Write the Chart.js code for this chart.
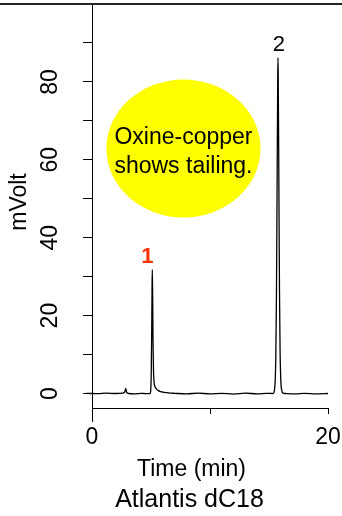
<!DOCTYPE html>
<html>
<head>
<meta charset="utf-8">
<script src="https://cdn.jsdelivr.net/npm/chart.js@4.4.1/dist/chart.umd.min.js"></script>
<style>
  html, body { margin: 0; padding: 0; background: #fff; }
  canvas { display: block; }
</style>
</head>
<body>
<canvas id="chromChart" width="342" height="516"></canvas>
<script>
// chromatogram trace (time in min, signal in mV)
const times = [
  -1.5, -0.5, 0.5, 1.2, 2.0, 2.6, 2.78, 2.86, 2.94, 3.1, 3.6, 4.2, 4.6,
  4.92, 4.98, 5.02, 5.06, 5.09, 5.11, 5.14, 5.17, 5.21, 5.26, 5.34, 5.45, 5.6, 5.8, 6.1, 6.5,
  7.0, 8.0, 9.0, 10.0, 11.0, 12.0, 13.0, 14.0, 14.8,
  15.36, 15.45, 15.52, 15.58, 15.63, 15.67, 15.71, 15.74, 15.76, 15.78, 15.81, 15.85, 15.89, 15.94, 16.0, 16.08, 16.2,
  16.4, 17.2, 18.0, 19.0, 20.0
];
const signal = [
  0.0, 0.05, -0.05, 0.1, 0.0, 0.1, 0.4, 1.3, 0.3, 0.0, -0.1, 0.05, -0.05,
  0.0, 1.0, 5, 16, 27, 31.8, 25, 14, 6, 3.0, 1.8, 1.2, 0.8, 0.5, 0.3, 0.15,
  0.05, -0.1, 0.1, -0.1, 0.05, -0.15, 0.1, -0.1, 0.05,
  0.0, 0.6, 3, 10, 25, 45, 66, 81, 86.2, 82, 68, 46, 26, 11, 3.5, 0.8, 0.1,
  0.0, -0.1, 0.05, -0.1, 0.0
];

const peakNames = ['1', '2'];
const peakTimes = [5.11, 15.76];
const peakHeights = [31.8, 86.2];

const xTickValues = [0, 10, 20];
const xTickLabels = ['0', '', '20'];
const yTickValues = [0, 10, 20, 30, 40, 50, 60, 70, 80, 90];
const yTickLabels = ['0', '', '20', '', '40', '', '60', '', '80', ''];

const noteLines = ['Oxine-copper', 'shows tailing.'];
const noteCenter = [7.75, 62.9];   // time, mV
const noteRadii = [6.53, 17.7];

const FONT = "'Liberation Sans', Arial, Helvetica, sans-serif";

const decorPlugin = {
    id: 'chromDecor',
    beforeDatasetsDraw(chart) {
        const ctx = chart.ctx;
        const xs = chart.scales.x, ys = chart.scales.y;
        const cx = xs.getPixelForValue(noteCenter[0]);
        const cy = ys.getPixelForValue(noteCenter[1]);
        const rx = xs.getPixelForValue(noteCenter[0] + noteRadii[0]) - cx;
        const ry = cy - ys.getPixelForValue(noteCenter[1] + noteRadii[1]);
        ctx.save();
        ctx.fillStyle = '#ffff00';
        ctx.beginPath();
        ctx.ellipse(cx, cy, rx, ry, 0, 0, Math.PI * 2);
        ctx.fill();
        ctx.fillStyle = '#000';
        ctx.font = '23px ' + FONT;
        ctx.textAlign = 'center';
        ctx.textBaseline = 'alphabetic';
        ctx.fillText(noteLines[0], cx, cy - 5);
        ctx.fillText(noteLines[1], cx, cy + 24);
        ctx.restore();
    },
    afterDraw(chart) {
        const ctx = chart.ctx;
        const area = chart.chartArea;
        const xs = chart.scales.x, ys = chart.scales.y;
        ctx.save();

        // frame line across the top
        ctx.fillStyle = '#222';
        ctx.fillRect(0, 3, chart.width, 2);

        // y axis runs a bit below the x axis
        ctx.strokeStyle = '#000';
        ctx.lineWidth = 1;
        ctx.beginPath();
        ctx.moveTo(Math.round(area.left) + 0.5, area.bottom);
        ctx.lineTo(Math.round(area.left) + 0.5, area.bottom + 14);
        ctx.stroke();

        // rotated y tick labels
        ctx.fillStyle = '#000';
        ctx.font = '23px ' + FONT;
        ctx.textAlign = 'center';
        ctx.textBaseline = 'alphabetic';
        yTickValues.forEach((v, i) => {
            if (!yTickLabels[i]) return;
            const py = ys.getPixelForValue(v);
            ctx.save();
            ctx.translate(57, py);
            ctx.rotate(-Math.PI / 2);
            ctx.fillText(yTickLabels[i], 0, 0);
            ctx.restore();
        });

        // y axis title
        ctx.save();
        ctx.translate(26, 202);
        ctx.rotate(-Math.PI / 2);
        ctx.fillText('mVolt', 0, 0);
        ctx.restore();

        // peak labels
        peakNames.forEach((name, i) => {
            const px = xs.getPixelForValue(peakTimes[i]);
            const py = ys.getPixelForValue(peakHeights[i]);
            if (i === 0) {
                ctx.fillStyle = '#ff3300';
                ctx.font = 'bold 22px ' + FONT;
                ctx.fillText(name, px - 5, py - 7);
            } else {
                ctx.fillStyle = '#000';
                ctx.font = '22px ' + FONT;
                ctx.fillText(name, px + 1, py - 7);
            }
        });

        // bottom titles
        ctx.fillStyle = '#000';
        ctx.font = '23px ' + FONT;
        ctx.fillText('Time (min)', 191.5, 476);
        ctx.font = '25px ' + FONT;
        ctx.fillText('Atlantis dC18', 189.5, 507);

        ctx.restore();
    }
};

const ctx = document.getElementById('chromChart').getContext('2d');
new Chart(ctx, {
    type: 'line',
    data: {
        datasets: [{
            data: times.map((t, i) => ({ x: t, y: signal[i] })),
            borderColor: '#000',
            borderWidth: 1.3,
            pointRadius: 0,
            fill: false,
            clip: false,
            cubicInterpolationMode: 'monotone'
        }]
    },
    options: {
        responsive: false,
        animation: false,
        devicePixelRatio: 1,
        layout: { padding: { top: 4, right: 14, left: 0, bottom: 0 } },
        plugins: {
            legend: { display: false },
            tooltip: { enabled: false }
        },
        scales: {
            x: {
                type: 'linear',
                min: 0,
                max: 20,
                afterBuildTicks: scale => { scale.ticks = xTickValues.map(v => ({ value: v })); },
                afterFit: scale => {
                    scale.height = 108;
                    scale.paddingLeft = 0;
                    scale.paddingRight = 0;
                },
                ticks: {
                    callback: (value, index) => xTickLabels[index],
                    font: { size: 23, family: FONT },
                    color: '#000',
                    padding: 10,
                    maxRotation: 0,
                    autoSkip: false
                },
                grid: { display: true, drawOnChartArea: false, drawTicks: true, tickLength: 6, color: '#000' },
                border: { display: true, color: '#000', width: 1 }
            },
            y: {
                type: 'linear',
                min: -3.72,
                max: 100,
                afterBuildTicks: scale => { scale.ticks = yTickValues.map(v => ({ value: v })); },
                afterFit: scale => {
                    scale.width = 92;
                    scale.paddingTop = 0;
                    scale.paddingBottom = 0;
                },
                ticks: { display: false },
                grid: { display: true, drawOnChartArea: false, drawTicks: true, tickLength: 9, color: '#000' },
                border: { display: true, color: '#000', width: 1 }
            }
        }
    },
    plugins: [decorPlugin]
});
</script>
</body>
</html>
